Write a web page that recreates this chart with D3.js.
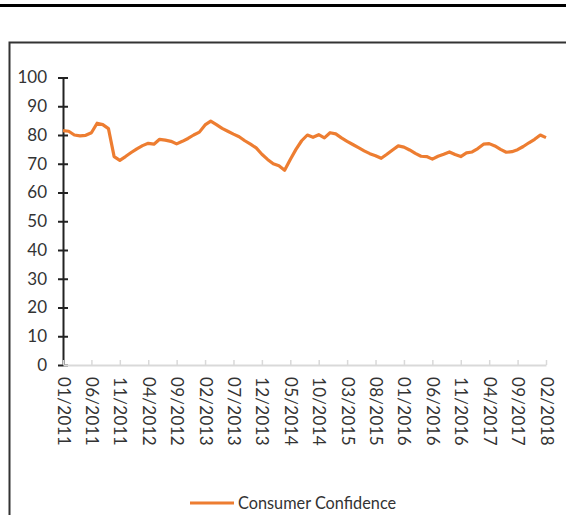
<!DOCTYPE html>
<html>
<head>
<meta charset="utf-8">
<script src="https://cdn.jsdelivr.net/npm/d3@7"></script>
<style>
  body { margin: 0; background: #fff; }
  #container { width: 566px; height: 515px; position: relative; overflow: hidden; }
  text { font-family: Lato, "Open Sans", sans-serif; fill: #333; }
</style>
</head>
<body>
<div id="container"></div>
<script>
// monthly consumer confidence, 01/2011 .. 02/2018
const months = d3.timeMonth.range(new Date(2011, 0, 1), new Date(2018, 2, 1));
const confidence = [
  81.5, 81.3, 80.0, 79.7, 79.9, 80.8, 84.1, 83.6, 82.2, 72.5,
  71.2, 72.5, 73.9, 75.2, 76.3, 77.1, 76.8, 78.5, 78.2, 77.8,
  76.9, 77.8, 78.8, 80.0, 81.0, 83.5, 84.8, 83.6, 82.3, 81.3,
  80.3, 79.4, 78.0, 76.8, 75.5, 73.3, 71.5, 70.0, 69.3, 67.7,
  71.5, 75.0, 78.0, 80.0, 79.2, 80.1, 79.0, 80.8, 80.4, 79.0,
  77.8, 76.7, 75.6, 74.5, 73.5, 72.8, 71.9, 73.3, 74.8, 76.2,
  75.8, 74.8, 73.6, 72.6, 72.5, 71.6, 72.6, 73.3, 74.1, 73.2,
  72.5, 73.8, 74.1, 75.3, 76.8, 77.0, 76.2, 75.0, 74.0, 74.2,
  74.9, 76.0, 77.3, 78.5, 80.0, 79.1
];
const xTickLabels = ["01/2011","06/2011","11/2011","04/2012","09/2012","02/2013",
  "07/2013","12/2013","05/2014","10/2014","03/2015","08/2015","01/2016",
  "06/2016","11/2016","04/2017","09/2017","02/2018"];
const yTicks = [0, 10, 20, 30, 40, 50, 60, 70, 80, 90, 100];
const seriesName = "Consumer Confidence";

const width = 566, height = 515;
const svg = d3.select("#container").append("svg")
    .attr("width", width).attr("height", height);

// top rule and chart frame
svg.append("rect").attr("x", 0).attr("y", 4).attr("width", width).attr("height", 3).attr("fill", "#000");
svg.append("rect").attr("x", 9.5).attr("y", 42.5).attr("width", 600).attr("height", 520)
    .attr("fill", "none").attr("stroke", "#333").attr("stroke-width", 2);

const plot = { left: 63, right: 546, top: 77.5, bottom: 365 };

const x = d3.scaleLinear().domain([0, months.length - 1]).range([plot.left, plot.right]);
const y = d3.scaleLinear().domain([0, 100]).range([plot.bottom, plot.top]);

// x axis (gray, ticks pointing up, rotated labels)
const xTickIdx = xTickLabels.map((d, i) => i * 5);
const xAxis = svg.append("g")
    .attr("transform", "translate(0," + plot.bottom + ")")
    .call(d3.axisBottom(x).tickValues(xTickIdx).tickSize(-5).tickSizeOuter(0)
      .tickFormat((d, i) => xTickLabels[i]));
xAxis.select(".domain").attr("stroke", "#d9d9d9").attr("stroke-width", 2);
xAxis.selectAll(".tick line").attr("stroke", "#d9d9d9").attr("stroke-width", 1.5);
xAxis.selectAll(".tick text")
    .attr("y", 0).attr("x", 0).attr("dy", "0.35em")
    .attr("text-anchor", "start")
    .attr("transform", "translate(0,12) rotate(90)")
    .style("font-size", "17px").style("letter-spacing", "0.3px");

// y axis (black, crossing ticks)
const yAxis = svg.append("g")
    .attr("transform", "translate(" + plot.left + ",0)")
    .call(d3.axisLeft(y).tickValues(yTicks).tickSize(5).tickPadding(11).tickSizeOuter(0));
yAxis.select(".domain").attr("stroke", "#222").attr("stroke-width", 2);
yAxis.selectAll(".tick line").attr("x1", -5).attr("x2", 5).attr("stroke", "#222").attr("stroke-width", 2);
yAxis.selectAll(".tick text").style("font-size", "17px");
xAxis.raise();

// line
const line = d3.line().x((d, i) => x(i)).y(d => y(d));
svg.append("path").datum(confidence)
    .attr("d", line)
    .attr("fill", "none")
    .attr("stroke", "#ED7D31")
    .attr("stroke-width", 3.2)
    .attr("stroke-linejoin", "round");

// legend
const legend = svg.append("g").attr("transform", "translate(190,503)");
legend.append("line").attr("x1", 0).attr("x2", 44).attr("y1", 0).attr("y2", 0)
    .attr("stroke", "#ED7D31").attr("stroke-width", 3.2);
legend.append("text").attr("x", 48).attr("y", 0).attr("dy", "0.35em")
    .style("font-size", "16.3px").text(seriesName);
</script>
</body>
</html>
